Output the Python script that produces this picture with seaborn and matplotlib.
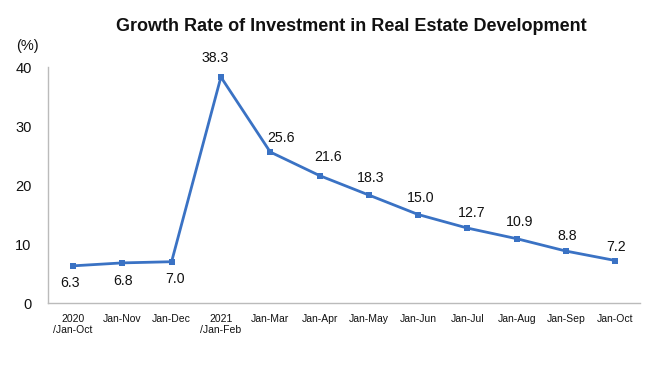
import matplotlib
matplotlib.use("Agg")
import matplotlib.pyplot as plt
import seaborn as sns
import pandas as pd
import numpy as np

categories = ["2020\n/Jan-Oct", "Jan-Nov", "Jan-Dec", "2021\n/Jan-Feb", "Jan-Mar", "Jan-Apr",
              "Jan-May", "Jan-Jun", "Jan-Jul", "Jan-Aug", "Jan-Sep", "Jan-Oct"]
growth = [6.3, 6.8, 7.0, 38.3, 25.6, 21.6, 18.3, 15.0, 12.7, 10.9, 8.8, 7.2]
y_ticks = [0, 10, 20, 30, 40]

# label offsets (pixels, dx right, dy up) relative to each point -- styling only
label_dx = [-3, 1, 3, -6, 11, 9, 2, 2, 4, 3, 1, 1]
label_dy = [-17, -18, -17, 19, 14, 19, 17, 17, 15, 17, 15, 14]

sns.set_theme(style="white")
plt.rcParams['font.family'] = ['Liberation Sans', 'DejaVu Sans']

df = pd.DataFrame({"idx": np.arange(len(categories)), "growth": growth})

fig = plt.figure(figsize=(6.59, 3.92), dpi=100)
ax = fig.add_axes([0.0733, 0.227, 0.898, 0.602])
color = "#3A72C4"
sns.lineplot(data=df, x="idx", y="growth", ax=ax, color=color, linewidth=2,
             marker="s", markersize=4.5, markeredgewidth=0, markerfacecolor=color)

px2pt = 72 / 100
for i, v in enumerate(growth):
    ax.annotate(f"{v:.1f}", (i, v), xytext=(label_dx[i] * px2pt, label_dy[i] * px2pt),
                textcoords="offset points", ha="center", va="center",
                fontsize=10.2, color="#111111")

ax.set_xlim(-0.5, len(categories) - 0.5)
ax.set_ylim(0, 40)
ax.set_yticks(y_ticks)
ax.set_yticklabels([str(t) for t in y_ticks], fontsize=10.5, color="#111111")
ax.set_xticks(np.arange(len(categories)))
ax.set_xticklabels(categories, fontsize=7.5, color="#111111", linespacing=1.1)
ax.set_xticks(np.arange(len(categories) + 1) - 0.5, minor=True)
ax.tick_params(axis="x", which="major", length=0, pad=8)
ax.tick_params(axis="x", which="minor", length=4, direction="in", color="#BBBBBB", width=1)
ax.tick_params(axis="y", which="major", length=4, direction="in", color="#BBBBBB", width=1, pad=12)
ax.set_xlabel("")
ax.set_ylabel("")
for s in ["top", "right"]:
    ax.spines[s].set_visible(False)
for s in ["left", "bottom"]:
    ax.spines[s].set_color("#BBBBBB")
    ax.spines[s].set_linewidth(1)
ax.grid(False)

fig.text(0.533, 0.933, "Growth Rate of Investment in Real Estate Development",
         ha="center", va="center", fontsize=13, fontweight="bold", color="#111111")
fig.text(0.024, 0.883, "(%)", ha="left", va="center", fontsize=10.5, color="#111111")

fig.savefig("out.png", dpi=100)
